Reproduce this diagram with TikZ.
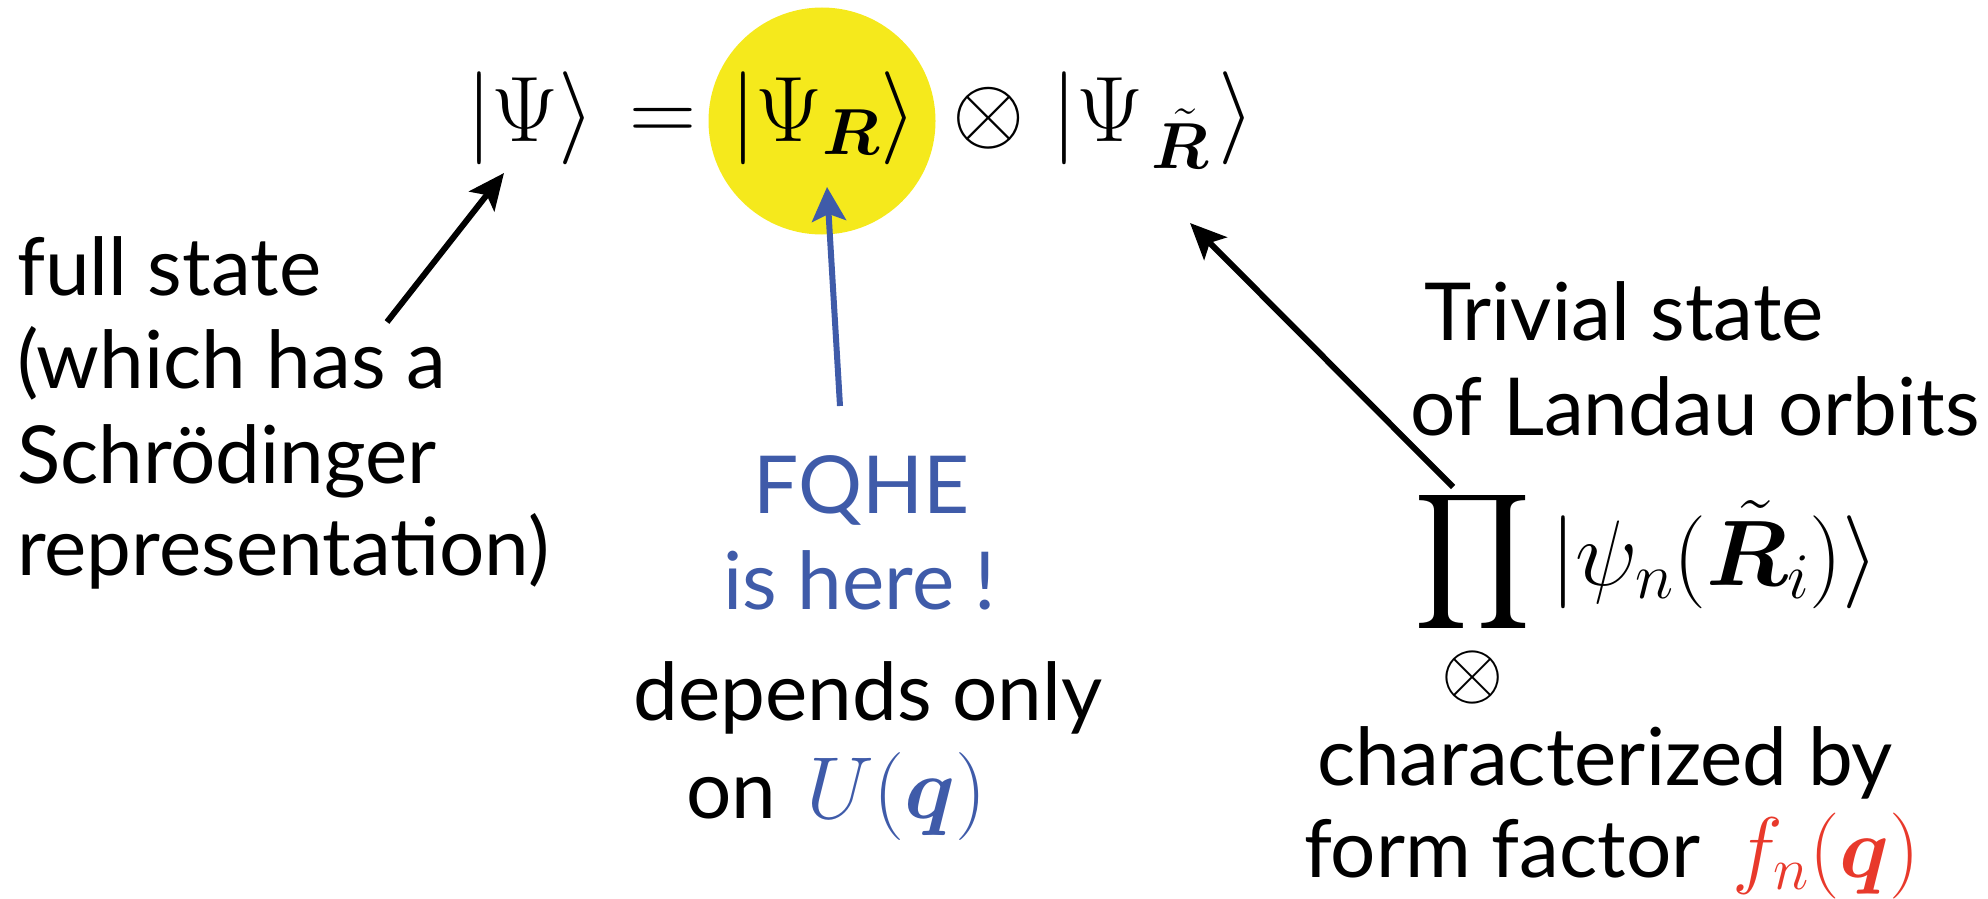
\documentclass[tikz,border=0pt]{standalone}
\usepackage{fix-cm}
\usepackage{graphicx}
\usepackage{amsmath}
\usepackage{bm}
\usepackage[no-math]{fontspec}
\setmainfont{Lato}
\usetikzlibrary{arrows.meta}
\definecolor{fqblue}{RGB}{63,91,169}
\definecolor{ffred}{RGB}{232,57,43}
\definecolor{hiyellow}{RGB}{245,233,28}
\tikzset{
  txt/.style={inner sep=0pt, outer sep=0pt, font=\fontsize{80}{95}\selectfont},
  mth/.style={inner sep=0pt, outer sep=0pt, font=\fontsize{93}{110}\selectfont},
  arr/.style={line width=6pt, -{Stealth[length=36pt,width=32pt,inset=8pt]}},
  barr/.style={line width=6pt, draw=fqblue, -{Stealth[length=34pt,width=34pt,inset=7pt]}},
}
\begin{document}
\begin{tikzpicture}[x=1pt,y=-1pt]
\useasboundingbox (0,0) rectangle (1988,899);
% highlight
\node[circle, fill=hiyellow, minimum size=227pt, inner sep=0pt] (glow) at (822,121) {};
% top equation
\node[mth, anchor=base west] (psi) at (466,141) {$|\Psi\rangle$};
\node[mth, anchor=base west] (eq) at (629,141) {$=$};
\node[mth, anchor=base west] (psiR) at (730,141) {$|\Psi_{\bm{R}}\rangle$};
\node[mth, anchor=base west] (tens) at (952,141) {$\otimes$};
\node[mth, anchor=base west] (psiRt) at (1051,141) {$|\Psi_{\mkern2mu\tilde{\bm{R}}}\mkern2mu\rangle$};
% left text
\node[txt, anchor=base west] (l1) at (17,295) {full state};
\node[txt, anchor=base west] (l2) at (17,388) {(which has a};
\node[txt, anchor=base west] (l3) at (17,483) {Schrödinger};
\node[txt, anchor=base west] (l4) at (17,575) {representation)};
% middle text
\node[txt, anchor=base, text=fqblue] (m1) at (862,513) {FQHE};
\node[txt, anchor=base, text=fqblue] (m2) at (860,609) {is here !};
\node[txt, anchor=base] (m3) at (868,720) {depends only};
\node[txt, anchor=base west] (m4) at (686,818) {on\hspace{30pt}\textcolor{fqblue}{\fontsize{88}{95}\selectfont$U(\bm{q})$}};
% right text
\node[txt, anchor=base west] (r1) at (1424,340) {Trivial state};
\node[txt, anchor=base west] (r2) at (1410,435) {of Landau orbits};
\node[inner sep=0pt, outer sep=0pt] (prod) at (1473,562) {\scalebox{9.1}[9.5]{$\displaystyle\prod$}};
\node[mth, anchor=base west] (ket) at (1550,585) {$|\psi_n(\tilde{\bm{R}}_i)\rangle$};
\node[inner sep=0pt, font=\fontsize{80}{90}\selectfont] (sub) at (1473,677) {$\otimes$};
\node[txt, anchor=base west] (r3) at (1317,785) {characterized by};
\node[txt, anchor=base west] (r4) at (1304,877) {form factor\hspace{32pt}\textcolor{ffred}{\fontsize{86}{95}\selectfont$f_n(\bm{q})$}};
% arrows
\coordinate (a1s) at (387,322);
\coordinate (a1e) at (504,173);
\coordinate (a2s) at (840,406);
\coordinate (a2e) at (827,187);
\coordinate (a3s) at (1453,487);
\coordinate (a3e) at (1190,223);
\draw[arr] (a1s) -- (a1e);
\draw[barr] (a2s) -- (a2e);
\draw[arr] (a3s) -- (a3e);
\end{tikzpicture}
\end{document}
